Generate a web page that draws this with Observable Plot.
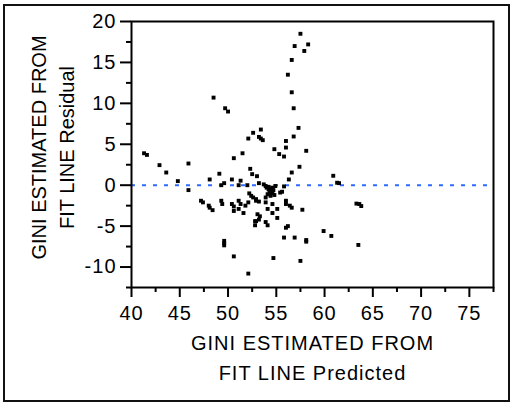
<!DOCTYPE html>
<html>
<head>
<meta charset="utf-8">
<script src="https://cdn.jsdelivr.net/npm/d3@7"></script>
<script src="https://cdn.jsdelivr.net/npm/@observablehq/plot@0.6"></script>
<style>
  html, body { margin: 0; padding: 0; background: #fff; }
  #wrap { position: relative; width: 511px; height: 402px; overflow: hidden; }
  #border { position: absolute; left: 3px; top: 4px; width: 507px; height: 398px; box-sizing: border-box; border: 2px solid #111; pointer-events: none; }
  svg { display: block; }
  svg text { letter-spacing: 1px; }
  svg text[transform*="rotate"], svg .ytitle text { letter-spacing: 0; }
</style>
</head>
<body>
<div id="wrap"><div id="border"></div></div>
<script>
// Predicted (x) and residual (y) values
const predicted = [
  41.3, 41.6, 42.9, 43.6, 44.8, 45.9, 45.9, 47.2, 47.4, 48.0,
  48.1, 48.4, 48.1, 48.5, 49.1, 49.3, 49.6, 49.3, 49.4, 49.7,
  50.0, 49.6, 49.6, 49.6, 50.4, 50.4, 50.6, 50.6, 50.6, 50.6,
  51.1, 51.1, 51.1, 51.3, 51.3, 51.5, 51.6, 51.8, 52.0, 52.1,
  52.1, 52.1, 52.2, 52.3, 52.4, 52.5, 52.6, 52.6, 52.9, 52.9,
  52.9, 52.8, 53.0, 53.05, 53.2, 53.2, 53.2, 53.3, 53.4, 53.4,
  53.6, 53.7, 53.9, 53.9, 53.9, 53.9, 54.1, 54.1, 54.6, 54.6,
  54.7, 54.8, 54.9, 55.1, 55.1, 55.3, 55.4, 55.6, 55.8, 55.8,
  55.8, 56.0, 56.0, 56.0, 56.0, 56.0, 56.2, 56.2, 56.3, 56.4,
  56.6, 56.6, 56.6, 56.6, 56.8, 56.8, 56.9, 56.9, 57.3, 57.5,
  57.4, 57.5, 57.7, 57.9, 58.1, 58.1, 58.1, 58.3, 59.9, 60.7,
  60.9, 61.3, 61.5, 63.3, 63.6, 63.8, 63.5,
  54.0, 54.2, 54.4, 54.5, 54.3, 54.6, 54.1, 54.7, 54.4, 54.8,
  54.2, 54.6, 53.2, 52.8
];
const residual = [
  3.9, 3.7, 2.45, 1.55, 0.5, 2.65, -0.6, -1.9, -2.1, -2.5,
  -2.75, -3.05, 0.7, 10.7, 1.4, 0.0, 0.25, -1.9, -2.3, 9.4,
  9.0, -6.8, -7.1, -7.35, 0.7, -2.3, -2.6, -3.15, 3.3, -8.7,
  0.0, -1.9, -2.9, 0.55, -2.3, 3.9, -3.4, -2.5, 0.0, -2.1,
  -10.8, 5.7, -1.0, 2.0, -1.3, 1.35, -1.5, 6.4, -1.7, -4.4,
  -1.9, -4.9, 1.1, -3.55, 0.25, -2.0, 5.9, -3.8, 6.8, 5.7,
  5.5, 0.1, -0.1, -1.5, -2.1, -4.5, -2.9, -4.9, -2.3, -3.4,
  -8.9, 4.4, -0.1, -2.9, -4.0, 3.8, -0.9, -0.8, -0.15, 3.5,
  -6.4, 5.4, 4.6, -1.9, -2.3, -5.2, -5.0, 13.5, 0.7, -2.5,
  -2.75, 1.55, 11.35, 15.3, 9.4, 5.95, 17.0, -6.4, 7.0, 18.5,
  2.25, -9.25, -3.0, 16.4, 4.2, -6.7, -6.9, 17.2, -5.6, -6.2,
  1.15, 0.3, 0.25, -2.25, -2.3, -2.55, -7.3,
  -0.3, -0.5, -0.7, -0.4, -0.9, -1.0, -1.1, -0.6, -1.3, -1.2,
  -0.2, -0.3, -4.2, -4.4
];

const xTicks = [40, 45, 50, 55, 60, 65, 70, 75];
const xMinor = [42.5, 47.5, 52.5, 57.5, 62.5, 67.5, 72.5, 77.5];
const yTicks = [-10, -5, 0, 5, 10, 15, 20];
const yMinor = [-12.5, -7.5, -2.5, 2.5, 7.5, 12.5, 17.5];
const xTitle = "GINI ESTIMATED FROM\nFIT LINE Predicted";
const yTitle = "GINI ESTIMATED FROM\nFIT LINE Residual";

const points = predicted.map((p, i) => ({predicted: p, residual: residual[i]}));

const chart = Plot.plot({
  width: 511,
  height: 402,
  marginLeft: 131,
  marginRight: 18,
  marginTop: 21,
  marginBottom: 115,
  style: {fontFamily: "'Liberation Sans', Arial, sans-serif", fontSize: "20px", color: "#000", background: "transparent", overflow: "visible"},
  x: {domain: [40, 77.5]},
  y: {domain: [-12.5, 20]},
  marks: [
    Plot.ruleY([0], {stroke: "#2f6bff", strokeWidth: 2, strokeDasharray: "4,7"}),
    Plot.dot(points, {x: "predicted", y: "residual", symbol: "square", r: 2.2, fill: "#000", stroke: null}),
    Plot.axisX({ticks: xTicks, tickSize: 10, tickPadding: 8, tickFormat: d => String(d), stroke: "#000", strokeWidth: 2, fontSize: 20, label: null}),
    Plot.axisX({ticks: xMinor, tickSize: 5, tickFormat: () => "", stroke: "#000", strokeWidth: 2, label: null}),
    Plot.axisY({ticks: yTicks, tickSize: 11, tickPadding: 4, tickFormat: d => String(d), stroke: "#000", strokeWidth: 2, fontSize: 20, label: null}),
    Plot.axisY({ticks: yMinor, tickSize: 5, tickFormat: () => "", stroke: "#000", strokeWidth: 2, label: null}),
    Plot.frame({stroke: "#000", strokeWidth: 2}),
    Plot.text([xTitle], {text: d => d, frameAnchor: "bottom", textAnchor: "middle", dy: 68, lineAnchor: "middle", lineHeight: 1.5, fontSize: 20, fill: "#000"}),
    Plot.text([yTitle], {text: d => d, frameAnchor: "left", textAnchor: "middle", rotate: -90, dx: -80, dy: -7, lineAnchor: "middle", lineHeight: 1.4, fontSize: 20, fill: "#000", className: "ytitle"})
  ]
});
document.getElementById("wrap").prepend(chart);
</script>
</body>
</html>
